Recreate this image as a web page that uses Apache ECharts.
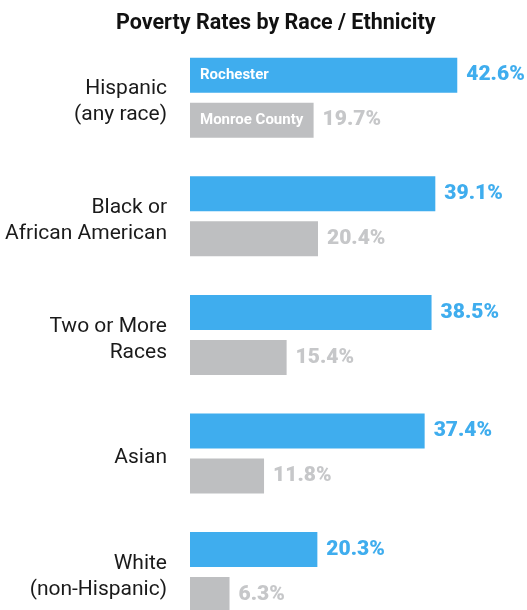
<!DOCTYPE html>
<html>
<head>
<meta charset="utf-8">
<script src="https://cdn.jsdelivr.net/npm/echarts@6/dist/echarts.min.js"></script>
<style>
  html, body { margin: 0; padding: 0; background: #fff; }
  #chart { width: 527px; height: 610px; }
</style>
</head>
<body>
<div id="chart"></div>
<script>
// Poverty rates (%) by race / ethnicity, city vs. county
const categories = ['Hispanic\n(any race)', 'Black or\nAfrican American', 'Two or More\nRaces', 'Asian', 'White\n(non-Hispanic)'];
const rochester = [42.6, 39.1, 38.5, 37.4, 20.3];
const monroeCounty = [19.7, 20.4, 15.4, 11.8, 6.3];
const seriesNames = ['Rochester', 'Monroe County'];

const BLUE = '#3FADEE';
const GRAY = '#BEBFC1';
const GRAY_TEXT = '#C6C7C9';
const FONT = 'Roboto, "Noto Sans", sans-serif';

// zero-length bars stacked under each series carry the in-bar series name on the first row
function nameSeries(name, stack) {
  return {
    name: name + ' label',
    type: 'bar',
    stack: stack,
    z: 5,
    barWidth: 35,
    silent: true,
    data: categories.map((c, i) => ({
      value: 0,
      label: {
        show: i === 0,
        position: 'right',
        distance: 10,
        formatter: name,
        color: '#ffffff',
        fontFamily: FONT,
        fontWeight: 'bold',
        fontSize: 15
      }
    }))
  };
}

function valueSeries(name, stack, data, color, textColor) {
  return {
    name: name,
    type: 'bar',
    stack: stack,
    barWidth: 35,
    barGap: '28.6%',
    itemStyle: { color: color },
    label: {
      show: true,
      position: 'right',
      distance: 9,
      formatter: p => p.value.toFixed(1) + '%',
      color: textColor,
      fontFamily: FONT,
      fontWeight: 900,
      fontSize: 21
    },
    data: data
  };
}

const chart = echarts.init(document.getElementById('chart'));
chart.setOption({
  animation: false,
  title: {
    text: 'Poverty Rates by Race / Ethnicity',
    left: 111,
    top: 8,
    textStyle: { fontFamily: FONT, fontWeight: 'bold', fontSize: 21.5, color: '#111111' }
  },
  grid: { left: 190, top: 38.4, width: 313.7, height: 593, outerBoundsMode: 'none', containLabel: false },
  xAxis: {
    type: 'value',
    min: 0,
    max: 50,
    show: false
  },
  yAxis: {
    type: 'category',
    inverse: true,
    data: categories,
    axisLine: { show: false },
    axisTick: { show: false },
    axisLabel: {
      margin: 23,
      align: 'right',
      // a thin spacer line on top nudges each label block slightly downward
      formatter: v => '{gap| }\n' + v.split('\n').map(s => '{t|' + s + '}').join('\n'),
      rich: {
        gap: { fontSize: 1, lineHeight: 9, height: 9 },
        t: {
          fontFamily: FONT,
          fontSize: 21,
          lineHeight: 26,
          color: '#1a1a1a',
          align: 'right'
        }
      }
    }
  },
  series: [
    nameSeries(seriesNames[0], 'r'),
    valueSeries(seriesNames[0], 'r', rochester, BLUE, BLUE),
    nameSeries(seriesNames[1], 'm'),
    valueSeries(seriesNames[1], 'm', monroeCounty, GRAY, GRAY_TEXT)
  ]
});
</script>
</body>
</html>
